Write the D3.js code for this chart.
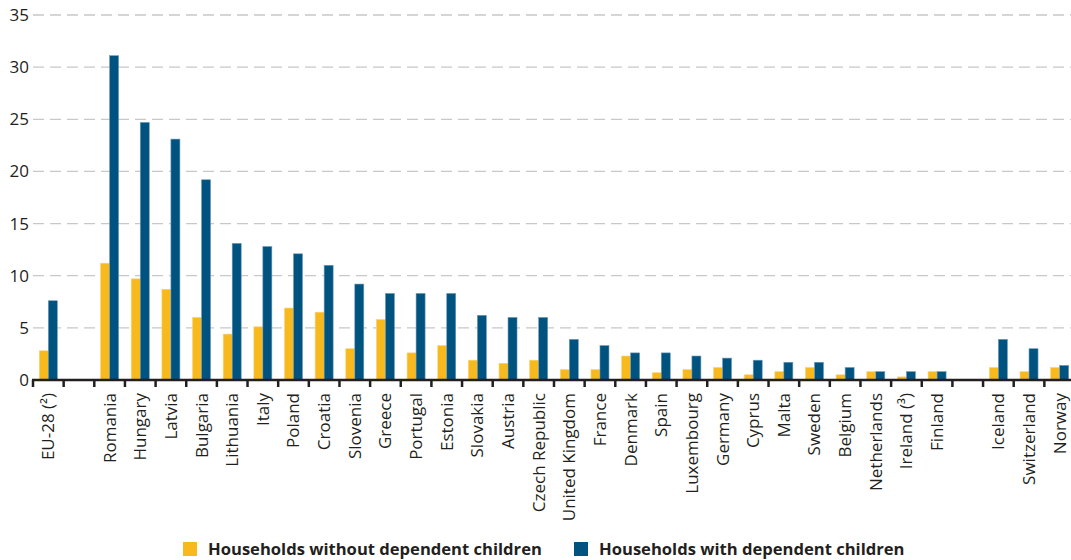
<!DOCTYPE html>
<html><head><meta charset="utf-8">
<script src="https://cdn.jsdelivr.net/npm/d3@7"></script>
<style>
html,body{margin:0;padding:0;background:#fff;}
svg{display:block;}
</style></head>
<body>
<svg id="chart" width="1071" height="560"></svg>
<script>
const categories = ["EU-28 (²)", "", "Romania", "Hungary", "Latvia", "Bulgaria", "Lithuania", "Italy", "Poland", "Croatia", "Slovenia", "Greece", "Portugal", "Estonia", "Slovakia", "Austria", "Czech Republic", "United Kingdom", "France", "Denmark", "Spain", "Luxembourg", "Germany", "Cyprus", "Malta", "Sweden", "Belgium", "Netherlands", "Ireland (³)", "Finland", "", "Iceland", "Switzerland", "Norway"];
const withoutChildren = [2.8, null, 11.2, 9.7, 8.7, 6.0, 4.4, 5.1, 6.9, 6.5, 3.0, 5.8, 2.6, 3.3, 1.9, 1.6, 1.9, 1.0, 1.0, 2.3, 0.7, 1.0, 1.2, 0.5, 0.8, 1.2, 0.5, 0.8, 0.3, 0.8, null, 1.2, 0.8, 1.2];
const withChildren = [7.6, null, 31.1, 24.7, 23.1, 19.2, 13.1, 12.8, 12.1, 11.0, 9.2, 8.3, 8.3, 8.3, 6.2, 6.0, 6.0, 3.9, 3.3, 2.6, 2.6, 2.3, 2.1, 1.9, 1.7, 1.7, 1.2, 0.8, 0.8, 0.8, null, 3.9, 3.0, 1.4];
const seriesNames = ["Households without dependent children", "Households with dependent children"];
const yTicks = [0, 5, 10, 15, 20, 25, 30, 35];

const colors = ["#F7B91C", "#00527F"];
const strokeColors = ["#FBD27A", "#6E9BBA"];
const font = "'Open Sans', 'Noto Sans', sans-serif";

const svg = d3.select("#chart");
const mLeft = 33, mRight = 1075, mTop = 15, mBottom = 380;

const x = d3.scaleBand().domain(d3.range(categories.length)).range([mLeft, mRight]).padding(0);
const y = d3.scaleLinear().domain([0, 35]).range([mBottom, mTop]);
const barW = 9;
const x1 = d3.scaleBand().domain([0, 1]).range([x.bandwidth() / 2 - barW, x.bandwidth() / 2 + barW]).padding(0);

// gridlines
svg.append("g").selectAll("line").data(yTicks.filter(t => t > 0)).join("line")
  .attr("x1", mLeft).attr("x2", 1071)
  .attr("y1", d => y(d)).attr("y2", d => y(d))
  .attr("stroke", "#c8c8c8").attr("stroke-width", 1.3)
  .attr("stroke-dasharray", "11,6");

// y axis labels
const yAxis = d3.axisLeft(y).tickValues(yTicks).tickSize(0).tickPadding(4);
const gy = svg.append("g").attr("transform", `translate(${mLeft},0)`).call(yAxis);
gy.select(".domain").remove();
gy.selectAll("text").attr("font-family", font).attr("font-size", 17).attr("fill", "#231f20").attr("x", -4);

// bars
const series = [withoutChildren, withChildren];
series.forEach((vals, si) => {
  svg.append("g").selectAll("rect").data(vals.map((v, i) => ({v, i})).filter(d => d.v !== null)).join("rect")
    .attr("x", d => x(d.i) + x1(si))
    .attr("width", x1.bandwidth())
    .attr("y", d => y(d.v))
    .attr("height", d => y(0) - y(d.v))
    .attr("fill", colors[si])
    .attr("stroke", strokeColors[si])
    .attr("stroke-width", 0.6);
});

// x axis
const boundaries = d3.range(categories.length + 1).map(i => mLeft + i * x.bandwidth());
const gx = svg.append("g");
gx.append("line").attr("x1", mLeft - 1).attr("x2", 1071).attr("y1", mBottom).attr("y2", mBottom)
  .attr("stroke", "#231f20").attr("stroke-width", 2.5);
gx.selectAll("line.tk").data(boundaries).join("line").attr("class", "tk")
  .attr("x1", d => d).attr("x2", d => d).attr("y1", mBottom).attr("y2", mBottom + 7)
  .attr("stroke", "#231f20").attr("stroke-width", 2.5);

const xAxis = d3.axisBottom(x).tickSize(0).tickFormat(i => categories[i]);
const gxl = svg.append("g").attr("transform", `translate(0,${mBottom})`).call(xAxis);
gxl.select(".domain").remove();
gxl.selectAll("text")
  .attr("font-family", font).attr("font-size", 17).attr("fill", "#231f20")
  .attr("transform", "rotate(-90)")
  .attr("x", -13).attr("y", 0).attr("dy", "0.35em")
  .style("text-anchor", "end");

// legend
const legend = svg.append("g");
const legendItems = [{x: 183, name: seriesNames[0], c: colors[0]}, {x: 574, name: seriesNames[1], c: colors[1]}];
legendItems.forEach(it => {
  legend.append("rect").attr("x", it.x).attr("y", 542).attr("width", 14).attr("height", 14).attr("fill", it.c);
  legend.append("text").attr("x", it.x + 25).attr("y", 549).attr("dy", "0.35em")
    .attr("font-family", font).attr("font-size", 16.6).attr("font-weight", "bold").attr("fill", "#231f20")
    .text(it.name);
});
</script>
</body></html>
